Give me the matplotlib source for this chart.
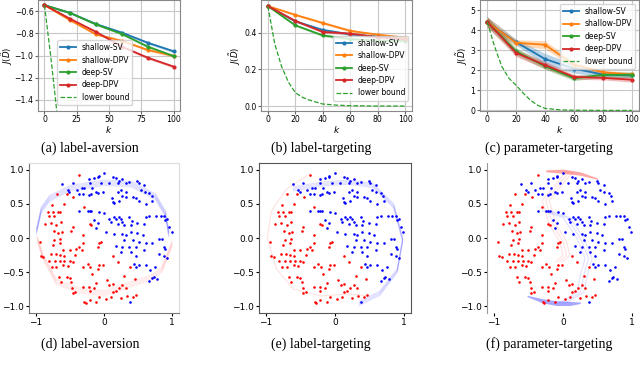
import matplotlib.pyplot as plt

# ---- top row data ----
k = [0, 20, 40, 60, 80, 100]

a_shallow_sv = [-0.546, -0.617, -0.717, -0.794, -0.885, -0.962]
a_shallow_dpv = [-0.546, -0.683, -0.810, -0.868, -0.950, -1.003]
a_deep_sv = [-0.546, -0.617, -0.720, -0.806, -0.920, -1.005]
a_deep_dpv = [-0.546, -0.670, -0.787, -0.920, -1.020, -1.100]
a_std = [0.005, 0.008, 0.010, 0.010, 0.012, 0.012]
a_lb_k = [0, 5, 10, 15]
a_lb = [-0.546, -1.02, -1.55, -2.1]

b_shallow_sv = [0.545, 0.462, 0.415, 0.391, 0.378, 0.367]
b_shallow_dpv = [0.545, 0.497, 0.453, 0.410, 0.389, 0.373]
b_deep_sv = [0.545, 0.440, 0.385, 0.365, 0.356, 0.356]
b_deep_dpv = [0.545, 0.464, 0.404, 0.395, 0.375, 0.365]
b_std = [0.004, 0.006, 0.007, 0.007, 0.006, 0.006]
b_lb_k = [0, 5, 10, 15, 20, 25, 30, 40, 50, 60, 80, 100]
b_lb = [0.545, 0.34, 0.215, 0.13, 0.073, 0.048, 0.033, 0.011, 0.005, 0.002, 0.0, 0.0]

c_shallow_sv = [4.41, 3.40, 2.56, 2.08, 1.79, 1.74]
c_shallow_dpv = [4.41, 3.37, 3.27, 2.28, 1.90, 1.79]
c_deep_sv = [4.41, 2.94, 2.20, 1.60, 1.77, 1.78]
c_deep_dpv = [4.41, 2.86, 2.26, 1.67, 1.62, 1.53]
c_shallow_sv_std = [0.25, 0.15, 0.28, 0.22, 0.12, 0.10]
c_shallow_dpv_std = [0.25, 0.15, 0.20, 0.15, 0.10, 0.10]
c_deep_sv_std = [0.25, 0.18, 0.15, 0.12, 0.12, 0.15]
c_deep_dpv_std = [0.25, 0.18, 0.18, 0.12, 0.10, 0.12]
c_lb_k = [0, 5, 10, 15, 20, 25, 30, 35, 40, 50, 60, 80, 100]
c_lb = [4.41, 3.2, 2.2, 1.6, 1.25, 0.85, 0.5, 0.25, 0.1, 0.03, 0.01, 0.0, 0.0]

# ---- bottom row data (same points in all three panels) ----
red_x = [-0.36, -0.55, -0.69, -0.77, -0.59, -0.82, -0.75, -0.67, -0.64, -0.73,
         -0.81, -0.87, -0.78, -0.70, -0.63, -0.62, -0.74, -0.67, -0.94, -0.73,
         -0.64, -0.65, -0.75, -0.92, -0.89, -0.78, -0.71, -0.65, -0.59, -0.50,
         -0.41, -0.33, -0.42, -0.81, -0.72, -0.65, -0.58, -0.50, -0.46, -0.77,
         -0.70, -0.60, -0.53, -0.31, -0.24, -0.20, -0.07, -0.02, -0.09, -0.66,
         -0.55, -0.50, -0.63, -0.48, -0.47, -0.46, -0.42, -0.31, -0.22, -0.21,
         -0.15, -0.29, -0.27, -0.21, -0.12, -0.07, 0.03, 0.10, 0.13, 0.08,
         0.13, 0.17, 0.22, 0.27, 0.32, 0.34, 0.42, 0.47, -0.17, -0.04,
         -0.07, -0.09, 0.13, -0.48, -0.46, -0.31, -0.21, -0.19, -0.31, -0.60,
         -0.36, 0.20, 0.38, 0.30, 0.45, -0.45, -0.30, 0.05, -0.12, 0.25]
red_y = [0.93, 0.65, 0.65, 0.49, 0.50, 0.38, 0.38, 0.38, 0.38, 0.33,
         0.32, 0.21, 0.22, 0.19, 0.23, 0.09, 0.11, 0.07, -0.06, -0.03,
         -0.01, -0.08, -0.10, -0.27, -0.28, -0.24, -0.23, -0.25, -0.27, -0.18,
         -0.16, -0.18, -0.25, -0.33, -0.33, -0.33, -0.33, -0.33, -0.35, -0.42,
         -0.43, -0.40, -0.41, -0.43, -0.38, -0.42, -0.40, -0.40, -0.46, -0.57,
         -0.57, -0.58, -0.64, -0.64, -0.74, -0.81, -0.79, -0.72, -0.72, -0.78,
         -0.74, -0.94, -0.96, -0.91, -0.94, -0.86, -0.89, -0.86, -0.79, -0.69,
         -0.67, -0.77, -0.74, -0.69, -0.74, -0.85, -0.86, -0.84, -0.53, -0.06,
         -0.08, -0.13, -0.27, 0.11, 0.16, 0.04, 0.21, 0.19, -0.08, -0.18,
         -0.13, -0.35, -0.42, -0.55, -0.60, 0.60, 0.45, -0.62, -0.66, -0.88]

blue_x = [0.00, -0.08, -0.09, -0.15, -0.22, -0.46, -0.53, -0.51, -0.61, -0.40,
          -0.33, -0.29, -0.21, -0.17, -0.04, 0.07, -0.36, -0.31, -0.22, -0.19,
          -0.12, -0.09, -0.02, 0.13, 0.17, 0.22, 0.27, 0.20, 0.32, 0.37,
          0.49, 0.51, 0.59, 0.54, 0.60, 0.66, 0.70, 0.20, 0.25, 0.27,
          0.32, 0.12, 0.13, 0.15, 0.22, 0.32, 0.42, 0.47, 0.51, 0.61,
          0.71, -0.24, -0.21, -0.19, -0.36, -0.07, 0.00, 0.08, 0.15, 0.17,
          0.22, 0.25, 0.27, 0.37, 0.41, 0.10, 0.20, 0.30, 0.39, 0.49,
          0.59, -0.14, -0.09, -0.12, 0.61, 0.66, 0.76, 0.83, 0.88, 0.90,
          0.93, 0.95, 0.99, 0.03, 0.15, 0.27, 0.32, 0.39, 0.49, 0.57,
          0.30, 0.42, 0.51, 0.61, 0.71, 0.81, 0.85, 0.88, 0.90, 0.17,
          0.27, 0.37, 0.47, 0.59, 0.81, 0.88, 0.93, 0.25, 0.39, 0.47,
          0.44, 0.47, 0.51, 0.61, 0.68, 0.75, 0.78, 0.73, 0.66, 0.71,
          0.38]
blue_y = [0.96, 0.91, 0.89, 0.88, 0.86, 0.80, 0.71, 0.68, 0.79, 0.71,
          0.74, 0.74, 0.80, 0.74, 0.80, 0.80, 0.65, 0.65, 0.63, 0.65,
          0.67, 0.66, 0.67, 0.90, 0.88, 0.84, 0.87, 0.80, 0.80, 0.82,
          0.84, 0.80, 0.78, 0.70, 0.67, 0.66, 0.62, 0.67, 0.70, 0.62,
          0.67, 0.58, 0.53, 0.51, 0.55, 0.60, 0.60, 0.58, 0.55, 0.50,
          0.55, 0.40, 0.40, 0.40, 0.39, 0.38, 0.36, 0.28, 0.31, 0.28,
          0.31, 0.28, 0.23, 0.31, 0.25, 0.23, 0.21, 0.19, 0.19, 0.22,
          0.20, 0.26, 0.22, 0.15, 0.31, 0.32, 0.33, 0.33, 0.33, 0.26,
          0.28, 0.16, 0.09, 0.09, 0.06, 0.06, 0.04, 0.09, 0.07, 0.05,
          -0.03, -0.03, -0.06, -0.08, -0.08, -0.02, -0.01, -0.13, -0.16, -0.11,
          -0.13, -0.13, -0.13, -0.18, -0.23, -0.27, -0.30, -0.20, -0.20, -0.27,
          -0.38, -0.42, -0.40, -0.40, -0.47, -0.42, -0.60, -0.57, -0.63, -0.58,
          -0.94]

# trajectories of the moved points
d_blue_path_x = [-0.99, -0.92, -0.80, -0.50, 0.00, 0.40, 0.75, 0.90, 0.95]
d_blue_path_y = [0.14, 0.45, 0.62, 0.77, 0.85, 0.83, 0.65, 0.40, 0.10]
d_red_path_x = [-0.98, -0.90, -0.70, -0.40, 0.00, 0.45, 0.70, 0.85, 1.00]
d_red_path_y = [-0.05, -0.30, -0.68, -0.80, -0.85, -0.70, -0.62, -0.50, -0.12]
e_red_path_x = [-0.38, -0.70, -0.92, -0.98, -0.85, -0.60, -0.20, 0.20, 0.50]
e_red_path_y = [0.93, 0.72, 0.40, 0.00, -0.45, -0.75, -0.85, -0.82, -0.85]
e_blue_path_x = [-0.60, -0.20, 0.20, 0.55, 0.85, 0.98, 0.90, 0.65, 0.35]
e_blue_path_y = [0.75, 0.82, 0.85, 0.80, 0.50, 0.00, -0.45, -0.78, -0.93]
f_red_path_x = [0.05, -0.30, -0.20, -0.05, 0.00, -0.10]
f_red_path_y = [0.98, 0.55, 0.20, -0.05, -0.25, -0.35]
f_blue_path_x = [-0.20, 0.10, 0.30, 0.42, 0.35, 0.30, 0.05]
f_blue_path_y = [0.40, 0.30, 0.00, -0.30, -0.55, -0.80, -0.95]
f_red_fan_x = [-0.25, 0.00, 0.25, 0.50]
f_red_fan_top = [1.00, 1.01, 0.97, 0.88]
f_red_fan_bot = [0.97, 0.95, 0.92, 0.86]
f_blue_fan_x = [-0.52, -0.30, -0.10, 0.10, 0.25]
f_blue_fan_top = [-0.84, -0.89, -0.92, -0.93, -0.94]
f_blue_fan_bot = [-0.86, -0.95, -0.99, -0.99, -0.96]


W, H = 640, 371


def rect(l, t, r, b):
    return [l / W, 1 - b / H, (r - l) / W, (b - t) / H]


fig = plt.figure(figsize=(6.4, 3.71), dpi=100)

labels = ['shallow-SV', 'shallow-DPV', 'deep-SV', 'deep-DPV']
colors = ['C0', 'C1', 'C2', 'C3']


def line_panel(ax, series, stds, lb_k, lb, xticks, yticks, ylim):
    for y, s, lab, c in zip(series, stds, labels, colors):
        lo = [v - e for v, e in zip(y, s)]
        hi = [v + e for v, e in zip(y, s)]
        ax.fill_between(k, lo, hi, color=c, alpha=0.3, linewidth=0)
        ax.plot(k, y, color=c, marker='.', markersize=4, linewidth=1.3, label=lab)
    ax.plot(lb_k, lb, color='C2', linestyle='--', linewidth=0.9, label='lower bound')
    ax.set_xlim(-5, 105)
    ax.set_ylim(*ylim)
    ax.set_xticks(xticks)
    ax.set_yticks(yticks)
    ax.grid(True, color='#c8c8c8', linewidth=0.8)
    ax.set_axisbelow(True)
    ax.tick_params(labelsize=5.6, length=2, pad=1.2, color='#666666')
    ax.set_xlabel('$k$', fontsize=6.5, labelpad=0)
    ax.set_ylabel(r'$J(\tilde{D})$', fontsize=6.2, labelpad=0.5)
    for sp in ax.spines.values():
        sp.set_color('#888888')
        sp.set_linewidth(0.8)


ax_a = fig.add_axes(rect(38, 0, 180, 111))
line_panel(ax_a, [a_shallow_sv, a_shallow_dpv, a_deep_sv, a_deep_dpv],
           [a_std] * 4, a_lb_k, a_lb, [0, 25, 50, 75, 100],
           [-0.6, -0.8, -1.0, -1.2, -1.4], (-1.5, -0.5))
ax_a.yaxis.set_label_coords(-0.16, 0.5)
ax_a.legend(loc='lower left', bbox_to_anchor=(0.11, 0.02), fontsize=5.5,
            labelspacing=0.45, handlelength=2.0, borderpad=0.4)

ax_b = fig.add_axes(rect(261, 0, 412, 111))
line_panel(ax_b, [b_shallow_sv, b_shallow_dpv, b_deep_sv, b_deep_dpv],
           [b_std] * 4, b_lb_k, b_lb, [0, 20, 40, 60, 80, 100],
           [0.0, 0.2, 0.4], (-0.027, 0.578))
ax_b.legend(loc='lower right', bbox_to_anchor=(1.0, 0.06), fontsize=5.5,
            labelspacing=0.45, handlelength=2.0, borderpad=0.4)

ax_c = fig.add_axes(rect(480, 0, 639, 111))
line_panel(ax_c, [c_shallow_sv, c_shallow_dpv, c_deep_sv, c_deep_dpv],
           [c_shallow_sv_std, c_shallow_dpv_std, c_deep_sv_std, c_deep_dpv_std],
           c_lb_k, c_lb, [0, 20, 40, 60, 80, 100], [0, 1, 2, 3, 4, 5], (-0.03, 5.5))
ax_c.legend(loc='upper right', bbox_to_anchor=(1.0, 1.0), fontsize=5.5,
            labelspacing=0.45, handlelength=2.0, borderpad=0.4)


def scatter_panel(ax):
    ax.scatter(red_x, red_y, s=3.5, color='red', marker='o', linewidths=0, zorder=3)
    ax.scatter(blue_x, blue_y, s=3.5, color='blue', marker='o', linewidths=0, zorder=3)
    ax.set_xlim(-1.1, 1.1)
    ax.set_ylim(-1.1, 1.1)
    ax.set_xticks([-1, 0, 1])
    ax.set_yticks([-1.0, -0.5, 0.0, 0.5, 1.0])
    ax.set_yticklabels(['\u22121.0', '\u22120.5', '0.0', '0.5', '1.0'])
    ax.tick_params(labelsize=6.5, length=2, pad=1.5)


ax_d = fig.add_axes(rect(29, 163, 179, 313))
scatter_panel(ax_d)
for i in range(5):
    off = 0.02 * i
    ax_d.plot(d_blue_path_x, [v - off for v in d_blue_path_y], color='blue',
              alpha=0.12, linewidth=0.8)
    ax_d.plot(d_red_path_x, [v + off for v in d_red_path_y], color='red',
              alpha=0.08, linewidth=0.8)
for name in ['left', 'bottom']:
    ax_d.spines[name].set_color('#777777')
for name in ['top', 'right']:
    ax_d.spines[name].set_color('#dddddd')

ax_e = fig.add_axes(rect(259, 163, 411, 313))
scatter_panel(ax_e)
for i in range(4):
    off = 0.02 * i
    ax_e.plot(e_blue_path_x, [v - off for v in e_blue_path_y], color='blue',
              alpha=0.12, linewidth=0.8)
ax_e.plot(e_red_path_x, e_red_path_y, color='red', alpha=0.12, linewidth=0.8)
for sp in ax_e.spines.values():
    sp.set_color('#555555')

ax_f = fig.add_axes(rect(487, 163, 639, 313))
scatter_panel(ax_f)
ax_f.fill_between(f_red_fan_x, f_red_fan_bot, f_red_fan_top, color='red',
                  alpha=0.35, linewidth=0)
ax_f.fill_between(f_blue_fan_x, f_blue_fan_bot, f_blue_fan_top, color='blue',
                  alpha=0.35, linewidth=0)
for i in range(3):
    off = 0.05 * i
    ax_f.plot([v + off for v in f_red_path_x], f_red_path_y, color='red',
              alpha=0.12, linewidth=0.8)
    ax_f.plot([v - off for v in f_blue_path_x], f_blue_path_y, color='blue',
              alpha=0.12, linewidth=0.8)
for name in ['top', 'right', 'bottom']:
    ax_f.spines[name].set_visible(False)
ax_f.spines['left'].set_color('#999999')

captions = [(90, 148, '(a) label-aversion'), (321, 148, '(b) label-targeting'),
            (549, 148, '(c) parameter-targeting'), (90, 344, '(d) label-aversion'),
            (321, 344, '(e) label-targeting'), (549, 344, '(f) parameter-targeting')]
for x, y, t in captions:
    fig.text(x / W, 1 - y / H, t, ha='center', va='center', fontsize=10,
             family='Liberation Serif')

fig.savefig('out.png', dpi=100)
